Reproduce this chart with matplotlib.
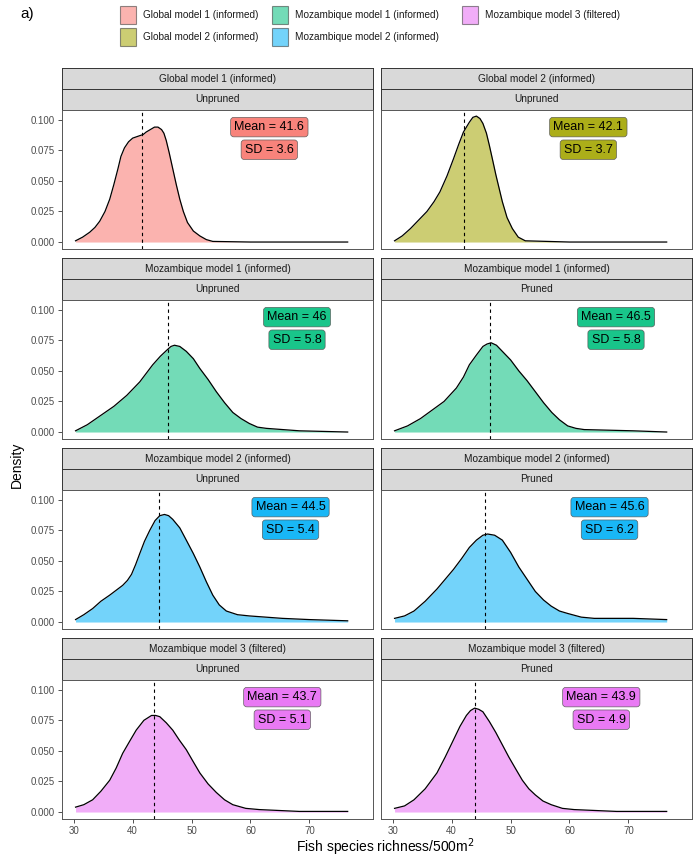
import matplotlib
matplotlib.use("Agg")
import matplotlib.pyplot as plt
from matplotlib.patches import Rectangle

plt.rcParams["font.family"] = ["Liberation Sans", "DejaVu Sans"]

# ---- data ----
models = ["Global model 1 (informed)", "Global model 2 (informed)",
          "Mozambique model 1 (informed)", "Mozambique model 2 (informed)",
          "Mozambique model 3 (filtered)"]
model_colors = ["#F8766D", "#A3A500", "#00BF7D", "#00B0F6", "#E76BF3"]

panel_models = [0, 1, 2, 2, 3, 3, 4, 4]
panel_prune = ["Unpruned", "Unpruned", "Unpruned", "Pruned",
               "Unpruned", "Pruned", "Unpruned", "Pruned"]
panel_means = [41.6, 42.1, 46, 46.5, 44.5, 45.6, 43.7, 43.9]
panel_sds = [3.6, 3.7, 5.8, 5.8, 5.4, 6.2, 5.1, 4.9]
label_x = [63.2, 63.2, 67.9, 67.9, 66.8, 66.8, 65.4, 65.4]

g1_unpruned_x = [30.3, 31.5, 32.7, 33.6, 34.4, 35.3, 36.1, 36.8, 37.5, 38.0, 38.6, 39.3, 40.0, 40.6, 41.2, 41.8, 42.3, 43.0, 43.7, 44.3, 44.9, 45.3, 45.7, 46.2, 46.8, 47.4, 48.0, 48.6, 49.3, 50.3, 51.4, 52.5, 53.6, 60, 70, 76.5]
g1_unpruned_y = [0.001, 0.004, 0.008, 0.012, 0.017, 0.025, 0.035, 0.047, 0.060, 0.070, 0.077, 0.082, 0.085, 0.086, 0.087, 0.088, 0.090, 0.092, 0.094, 0.094, 0.092, 0.089, 0.083, 0.073, 0.060, 0.047, 0.035, 0.025, 0.016, 0.009, 0.005, 0.002, 0.0005, 0.0, 0.0, 0.0]
g2_unpruned_x = [30.3, 31.6, 33.0, 34.4, 35.8, 37.0, 38.0, 39.2, 40.3, 41.2, 42.0, 43.0, 43.6, 44.2, 44.8, 45.3, 45.9, 46.4, 47.0, 47.5, 48.1, 48.6, 49.4, 50.3, 51.3, 52.5, 60, 76.5]
g2_unpruned_y = [0.001, 0.005, 0.011, 0.018, 0.025, 0.033, 0.041, 0.054, 0.068, 0.080, 0.090, 0.098, 0.102, 0.103, 0.101, 0.097, 0.089, 0.079, 0.066, 0.055, 0.043, 0.033, 0.020, 0.011, 0.004, 0.001, 0.0, 0.0]
m1_unpruned_x = [30.3, 32.3, 34.4, 36.8, 39.0, 41.2, 43.4, 44.7, 45.8, 46.5, 47.1, 48.0, 49.1, 50.3, 51.4, 52.8, 54.2, 55.6, 57.0, 58.4, 59.8, 61.2, 62.7, 65.5, 68.3, 76.5]
m1_unpruned_y = [0.001, 0.006, 0.013, 0.021, 0.030, 0.041, 0.055, 0.062, 0.067, 0.070, 0.071, 0.070, 0.066, 0.060, 0.052, 0.043, 0.033, 0.024, 0.016, 0.011, 0.007, 0.004, 0.003, 0.002, 0.001, 0.0]
m1_pruned_x = [30.3, 32.5, 34.7, 36.7, 38.7, 40.8, 42.0, 43.0, 44.2, 45.3, 46.0, 46.7, 47.6, 48.6, 50.0, 51.4, 52.8, 54.2, 55.6, 57.0, 58.3, 59.7, 61.1, 62.5, 66.7, 70.8, 76.5]
m1_pruned_y = [0.001, 0.005, 0.011, 0.018, 0.025, 0.036, 0.045, 0.055, 0.063, 0.070, 0.072, 0.073, 0.071, 0.066, 0.059, 0.050, 0.042, 0.033, 0.024, 0.016, 0.010, 0.005, 0.003, 0.002, 0.0015, 0.001, 0.0]
m2_unpruned_x = [30.3, 31.7, 33.2, 34.6, 36.1, 37.2, 38.3, 39.1, 39.8, 40.5, 41.2, 42.0, 42.9, 43.8, 44.6, 45.4, 46.1, 46.8, 48.0, 49.1, 50.3, 51.4, 52.5, 53.6, 54.7, 55.9, 57.8, 59.8, 62.6, 65.4, 70, 76.5]
m2_unpruned_y = [0.002, 0.006, 0.011, 0.017, 0.022, 0.026, 0.030, 0.034, 0.039, 0.047, 0.056, 0.066, 0.075, 0.083, 0.087, 0.088, 0.087, 0.084, 0.077, 0.067, 0.056, 0.045, 0.033, 0.022, 0.014, 0.009, 0.006, 0.005, 0.004, 0.003, 0.002, 0.001]
m2_pruned_x = [30.3, 32.0, 33.6, 35.5, 37.5, 38.9, 40.3, 41.7, 43.0, 44.2, 45.3, 46.1, 47.3, 48.6, 50.0, 51.4, 52.8, 54.2, 55.6, 56.9, 58.3, 59.7, 62.0, 64.2, 70.8, 76.5]
m2_pruned_y = [0.003, 0.005, 0.009, 0.017, 0.027, 0.035, 0.043, 0.052, 0.061, 0.067, 0.071, 0.072, 0.071, 0.067, 0.057, 0.045, 0.035, 0.025, 0.018, 0.013, 0.009, 0.007, 0.004, 0.003, 0.003, 0.002]
m3_unpruned_x = [30.3, 31.7, 33.2, 34.6, 36.1, 37.2, 38.3, 39.5, 40.6, 41.9, 43.2, 43.9, 44.6, 45.7, 46.8, 47.9, 49.1, 50.3, 51.4, 52.8, 54.2, 55.6, 57.0, 59.2, 61.5, 68.3, 76.5]
m3_unpruned_y = [0.004, 0.006, 0.010, 0.017, 0.026, 0.036, 0.048, 0.058, 0.067, 0.075, 0.079, 0.079, 0.078, 0.073, 0.067, 0.059, 0.051, 0.041, 0.032, 0.023, 0.016, 0.010, 0.006, 0.003, 0.002, 0.0005, 0.0005]
m3_pruned_x = [30.3, 32.0, 33.6, 35.5, 37.5, 38.9, 40.3, 41.4, 42.5, 43.2, 43.9, 44.6, 45.3, 46.4, 47.5, 48.6, 49.7, 50.9, 52.0, 53.1, 54.2, 55.5, 56.9, 58.8, 60.8, 68.0, 76.5]
m3_pruned_y = [0.003, 0.005, 0.010, 0.019, 0.032, 0.045, 0.059, 0.070, 0.079, 0.083, 0.085, 0.084, 0.082, 0.074, 0.065, 0.055, 0.045, 0.035, 0.026, 0.019, 0.014, 0.009, 0.006, 0.003, 0.002, 0.0005, 0.0005]

curves = [(g1_unpruned_x, g1_unpruned_y), (g2_unpruned_x, g2_unpruned_y),
          (m1_unpruned_x, m1_unpruned_y), (m1_pruned_x, m1_pruned_y),
          (m2_unpruned_x, m2_unpruned_y), (m2_pruned_x, m2_pruned_y),
          (m3_unpruned_x, m3_unpruned_y), (m3_pruned_x, m3_pruned_y)]

x_ticks = [30, 40, 50, 60, 70]
y_ticks = [0.000, 0.025, 0.050, 0.075, 0.100]

# ---- layout (pixels) ----
W, H = 693, 859
col_left = [62, 381]
col_width = 311
row_top = [68, 258, 448, 638]
strip_h = 21
panel_h = 139


def rect(x0, y0, w, h):
    return [x0 / W, 1 - (y0 + h) / H, w / W, h / H]


fig = plt.figure(figsize=(W / 100, H / 100), dpi=100)

for i, (xs, ys) in enumerate(curves):
    r, c = divmod(i, 2)
    m = panel_models[i]
    color = model_colors[m]
    x0 = col_left[c]
    top = row_top[r]

    # two strips
    for k, label in enumerate([models[m], panel_prune[i]]):
        sax = fig.add_axes(rect(x0, top + k * strip_h, col_width, strip_h))
        sax.set_facecolor("#D9D9D9")
        sax.set_xticks([])
        sax.set_yticks([])
        for s in sax.spines.values():
            s.set_color("#333333")
            s.set_linewidth(0.7)
        sax.text(0.5, 0.5, label, ha="center", va="center", fontsize=7.3,
                 color="#1A1A1A", transform=sax.transAxes)

    ax = fig.add_axes(rect(x0, top + 2 * strip_h, col_width, panel_h))
    ax.fill_between(xs, ys, 0, color=color, alpha=0.55, lw=0)
    ax.plot(xs, ys, color="black", lw=0.9, solid_joinstyle="round")
    ax.axvline(panel_means[i], color="black", lw=0.8, ls=(0, (3, 3)))
    ax.set_xlim(28, 80.8)
    ax.set_ylim(-0.0057, 0.108)
    ax.set_xticks(x_ticks)
    ax.set_yticks(y_ticks)
    ax.tick_params(length=3, width=0.6, color="#333333", labelsize=7,
                   labelcolor="#4D4D4D", pad=2)
    if c == 1:
        ax.tick_params(axis="y", left=False, labelleft=False)
    else:
        ax.set_yticklabels([f"{v:.3f}" for v in y_ticks])
    if r < 3:
        ax.tick_params(axis="x", bottom=False, labelbottom=False)
    for s in ax.spines.values():
        s.set_color("#555555")
        s.set_linewidth(0.7)

    box = dict(boxstyle="round,pad=0.3,rounding_size=0.25", fc=color,
               ec="#555555", lw=0.5, alpha=0.9)
    ax.text(label_x[i], 0.094, f"Mean = {panel_means[i]:g}", ha="center",
            va="center", fontsize=9, color="black", bbox=box)
    ax.text(label_x[i], 0.0755, f"SD = {panel_sds[i]:g}", ha="center",
            va="center", fontsize=9, color="black", bbox=box)

# axis titles
fig.text(17 / W, 1 - 465 / H, "Density", rotation=90, ha="center",
         va="center", fontsize=10)
fig.text(385 / W, 1 - 847 / H, "Fish species richness/500m$^2$",
         ha="center", va="center", fontsize=10)
fig.text(20 / W, 1 - 14 / H, "a)", ha="left", va="center", fontsize=11)

# legend (column-wise, two rows)
leg_cols = [120, 272, 462]
leg_rows = [6, 28]
for j, name in enumerate(models):
    col, row = divmod(j, 2)
    kx, ky = leg_cols[col], leg_rows[row]
    fig.patches.append(Rectangle((kx / W, 1 - (ky + 18) / H), 16 / W, 18 / H,
                                 transform=fig.transFigure,
                                 fc=model_colors[j], alpha=0.55,
                                 ec="#333333", lw=0.8))
    fig.text((kx + 23) / W, 1 - (ky + 9) / H, name, ha="left", va="center",
             fontsize=7.2, color="#1A1A1A")

fig.savefig("out.png", dpi=100)
